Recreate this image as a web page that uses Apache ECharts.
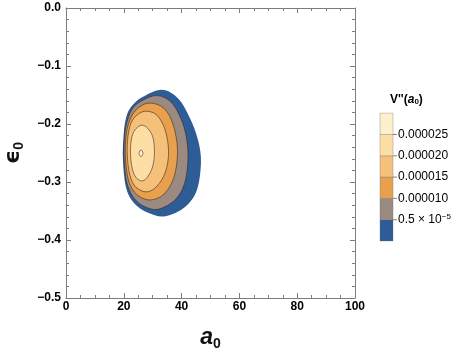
<!DOCTYPE html>
<html>
<head>
<meta charset="utf-8">
<script src="https://cdn.jsdelivr.net/npm/echarts@6/dist/echarts.min.js"></script>
<style>
html, body { margin: 0; padding: 0; background: #fff; }
#chart { width: 458px; height: 355px; }
</style>
</head>
<body>
<div id="chart"></div>
<script>
// contour bands of V''(a0), outermost first, as [a0, eps0] boundary points
const bandBlue = [[33.2, -0.141], [38.8, -0.156], [42.9, -0.190], [45.7, -0.228], [46.7, -0.266], [45.3, -0.314], [41.2, -0.343], [34.3, -0.359], [28.4, -0.353], [23.5, -0.336], [20.8, -0.310], [19.7, -0.262], [19.9, -0.222], [20.6, -0.193], [22.3, -0.172], [26.3, -0.154]]
const bandGray = [[31.5, -0.151], [36.3, -0.162], [39.8, -0.191], [41.7, -0.224], [42.2, -0.262], [41.0, -0.303], [37.7, -0.331], [31.8, -0.347], [26.6, -0.341], [23.0, -0.324], [20.9, -0.298], [20.1, -0.259], [20.3, -0.219], [21.3, -0.193], [23.2, -0.172], [26.6, -0.159]]
const bandOrange = [[29.4, -0.164], [33.9, -0.173], [37.0, -0.200], [38.6, -0.245], [37.4, -0.291], [33.9, -0.321], [29.1, -0.331], [24.6, -0.322], [21.8, -0.300], [20.6, -0.262], [20.8, -0.219], [22.5, -0.188], [25.6, -0.170]]
const bandLightOrange = [[28.0, -0.178], [31.5, -0.185], [34.3, -0.210], [35.5, -0.248], [34.4, -0.283], [31.5, -0.307], [28.0, -0.317], [24.2, -0.309], [22.1, -0.288], [21.2, -0.253], [21.5, -0.219], [22.8, -0.195], [25.3, -0.182]]
const bandCream = [[26.5, -0.202], [29.8, -0.219], [30.6, -0.250], [29.6, -0.279], [26.6, -0.298], [23.5, -0.286], [22.3, -0.250], [23.2, -0.216]]
const bandPeak = [[25.95, -0.2445], [26.65, -0.2505], [25.95, -0.2565], [25.25, -0.2505]]

const bands = [bandBlue, bandGray, bandOrange, bandLightOrange, bandCream, bandPeak]

// legend bins, bottom to top (same order as bands)
const binColors = ['#2d5c97', '#9b8a82', '#e8a04e', '#f4c07a', '#fddfa6', '#fef0cd']
const binLabels = ['0.5 × 10{sup|−5}', '0.000010', '0.000015', '0.000020', '0.000025']

const chart = echarts.init(document.getElementById('chart'))

const frameColor = '#7d7d7d'
const tickLabel = { color: '#000', fontWeight: 'bold', fontSize: 12, fontFamily: 'Liberation Sans' }

function frameAxis(extra) {
  return Object.assign({
    type: 'value',
    axisLine: { show: true, onZero: false, lineStyle: { color: frameColor, width: 1 } },
    axisTick: { show: true, inside: true, length: 5, lineStyle: { color: frameColor } },
    splitLine: { show: false },
    minorSplitLine: { show: false }
  }, extra)
}

// closed Catmull-Rom curve through pixel points
function closedCurve(pts) {
  const n = pts.length
  let d = 'M' + pts[0][0] + ' ' + pts[0][1]
  for (let i = 0; i < n; i++) {
    const p0 = pts[(i - 1 + n) % n], p1 = pts[i], p2 = pts[(i + 1) % n], p3 = pts[(i + 2) % n]
    const c1x = p1[0] + (p2[0] - p0[0]) / 6, c1y = p1[1] + (p2[1] - p0[1]) / 6
    const c2x = p2[0] - (p3[0] - p1[0]) / 6, c2y = p2[1] - (p3[1] - p1[1]) / 6
    d += 'C' + c1x + ' ' + c1y + ' ' + c2x + ' ' + c2y + ' ' + p2[0] + ' ' + p2[1]
  }
  return d + 'Z'
}

// legend bar
const barX = 380, barW = 13, barBottom = 241, binH = 21.3
const legendGraphics = []
binColors.forEach((c, i) => {
  legendGraphics.push({
    type: 'rect',
    shape: { x: barX, y: barBottom - (i + 1) * binH, width: barW, height: binH },
    style: { fill: c, stroke: 'rgba(110,110,110,0.7)', lineWidth: 0.5 }
  })
})
binLabels.forEach((t, i) => {
  const y = barBottom - (i + 1) * binH
  legendGraphics.push({
    type: 'line',
    shape: { x1: barX + barW, y1: y, x2: barX + barW + 4, y2: y },
    style: { stroke: '#666', lineWidth: 0.8 }
  })
  legendGraphics.push({
    type: 'text',
    x: barX + barW + 5, y: y,
    style: {
      text: t,
      fill: '#000', fontSize: 12, fontFamily: 'Liberation Sans',
      verticalAlign: 'middle',
      rich: { sup: { fontSize: 8, fontFamily: 'Liberation Sans', fill: '#000', verticalAlign: 'top', lineHeight: 14 } }
    }
  })
})
legendGraphics.push({
  type: 'text',
  x: 390, y: 100,
  style: {
    text: "V''({a|a}{s|0})",
    fill: '#000', fontSize: 12, fontWeight: 'bold', fontFamily: 'Liberation Sans',
    verticalAlign: 'middle',
    rich: {
      a: { fontSize: 12, fontStyle: 'italic', fontWeight: 'bold', fontFamily: 'Liberation Sans', fill: '#000' },
      s: { fontSize: 8, fontWeight: 'bold', fontFamily: 'Liberation Sans', fill: '#000', verticalAlign: 'bottom', lineHeight: 6 }
    }
  }
})

chart.setOption({
  animation: false,
  grid: { left: 66, right: 103, top: 8, bottom: 57, outerBoundsMode: 'none' },
  xAxis: [
    frameAxis({
      min: 0, max: 100, interval: 20, position: 'bottom',
      minorTick: { show: true, splitNumber: 4, length: 3, lineStyle: { color: frameColor } },
      axisLabel: Object.assign({ margin: 3 }, tickLabel),
      name: '{a|a}{s|0}',
      nameLocation: 'middle',
      nameGap: 27,
      nameTextStyle: {
        rich: {
          a: { fontSize: 23, fontStyle: 'italic', fontWeight: 'bold', fontFamily: 'Liberation Sans', color: '#111', lineHeight: 26 },
          s: { fontSize: 14, fontWeight: 'bold', fontFamily: 'Liberation Sans', color: '#111', verticalAlign: 'bottom', lineHeight: 8 }
        }
      }
    }),
    frameAxis({
      min: 0, max: 100, interval: 20, position: 'top',
      minorTick: { show: true, splitNumber: 4, length: 3, lineStyle: { color: frameColor } },
      axisLabel: { show: false }
    })
  ],
  yAxis: [
    frameAxis({
      min: -0.5, max: 0, interval: 0.1, position: 'left',
      minorTick: { show: true, splitNumber: 5, length: 3, lineStyle: { color: frameColor } },
      axisLabel: Object.assign({
        margin: 5,
        showMinLabel: true, showMaxLabel: true,
        formatter: v => Math.abs(v) < 1e-9 ? '0.0' : '−' + Math.abs(v).toFixed(1)
      }, tickLabel),
      name: '{e|ϵ}{s|0}',
      nameLocation: 'middle',
      nameRotate: 90,
      nameGap: 36,
      nameTextStyle: {
        rich: {
          e: { fontSize: 22, fontWeight: 'bold', fontFamily: 'DejaVu Sans', color: '#111', lineHeight: 26 },
          s: { fontSize: 14, fontWeight: 'bold', fontFamily: 'Liberation Sans', color: '#111', verticalAlign: 'bottom', lineHeight: 8 }
        }
      }
    }),
    frameAxis({
      min: -0.5, max: 0, interval: 0.1, position: 'right',
      minorTick: { show: true, splitNumber: 5, length: 3, lineStyle: { color: frameColor } },
      axisLabel: { show: false }
    })
  ],
  graphic: legendGraphics,
  series: [{
    type: 'custom',
    coordinateSystem: 'cartesian2d',
    silent: true,
    data: bands.map((pts, i) => [pts[0][0], pts[0][1], i]),
    renderItem: (params, api) => {
      const i = api.value(2)
      const pts = bands[i].map(p => api.coord(p))
      return {
        type: 'path',
        shape: { pathData: closedCurve(pts) },
        style: {
          fill: binColors[i],
          stroke: i === 0 ? null : 'rgba(50,35,20,0.8)',
          lineWidth: i === 0 ? 0 : 0.7
        }
      }
    }
  }]
})
</script>
</body>
</html>
